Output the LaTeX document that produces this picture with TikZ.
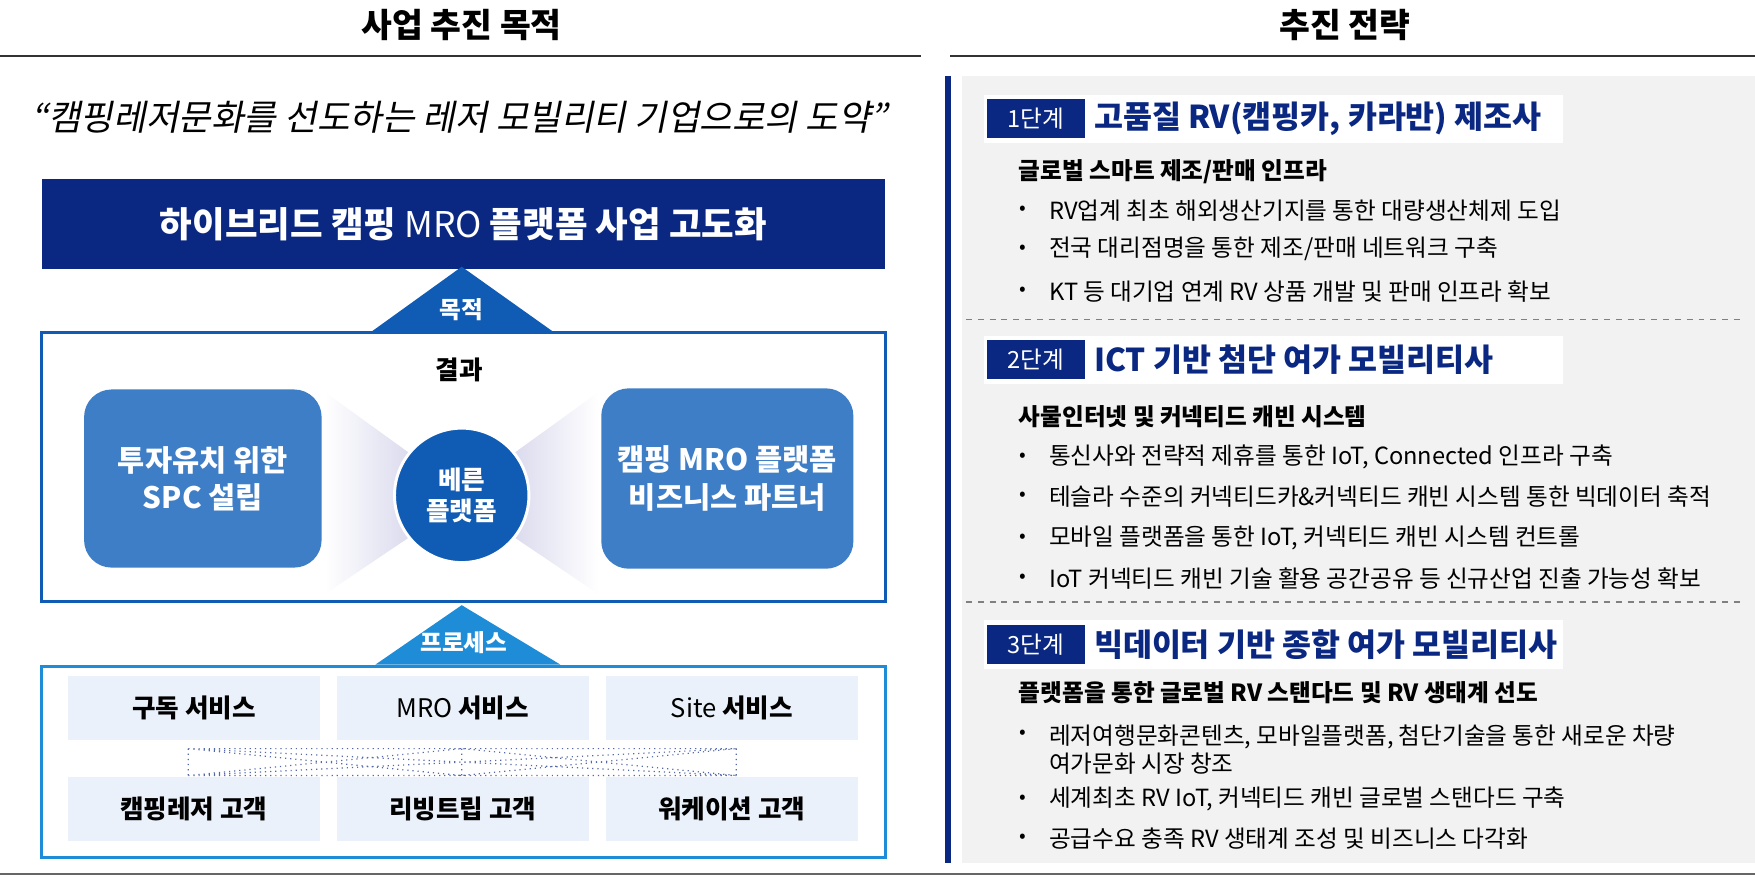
\documentclass[tikz,border=0pt]{standalone}
\usepackage{fontspec}
\setmainfont{Noto Sans CJK KR}
\newfontfamily\slantfont[FakeSlant=0.2]{Noto Sans CJK KR}
\usetikzlibrary{positioning}
\usetikzlibrary{calc}
\definecolor{navy}{RGB}{10,40,130}
\definecolor{midblue}{RGB}{16,92,180}
\definecolor{boxblue}{RGB}{62,126,198}
\definecolor{skyblue}{RGB}{30,140,215}
\definecolor{cellfill}{RGB}{234,241,250}
\definecolor{panelgray}{RGB}{242,242,242}
\definecolor{lav}{RGB}{205,205,232}
\newcommand{\bul}{\textbullet}

\begin{document}
\begin{tikzpicture}[x=0.02cm,y=-0.02cm,
    title/.style={font=\fontsize{17}{20}\selectfont\bfseries},
    bigbox/.style={rounded corners=14pt,fill=boxblue,text=white,align=center,
        font=\fontsize{15}{19}\selectfont\bfseries},
    cell/.style={fill=cellfill,minimum width=4.5cm,minimum height=1.15cm,
        font=\fontsize{13}{15}\selectfont\bfseries},
    stagelbl/.style={fill=navy,text=white,minimum width=1.76cm,minimum height=0.7cm,
        font=\fontsize{12}{14}\selectfont,anchor=west},
    stagetitle/.style={text=navy,font=\fontsize{16}{20}\selectfont\bfseries,anchor=west},
    subhead/.style={anchor=west,font=\fontsize{12}{14}\selectfont\bfseries},
    item/.style={anchor=west,font=\fontsize{12}{14}\selectfont,align=left},
    dot/.style={anchor=center,font=\fontsize{10}{12}\selectfont}
]
    \useasboundingbox (0,0) rectangle (1566,784);

    % Section titles
    \node[title] (ltitle) at (412,22) {사업 추진 목적};
    \node[title] (rtitle) at (1200,22) {추진 전략};
    \draw[thick,black!80] (0,50) -- (822,50);
    \draw[thick,black!80] (848,50) -- (1566,50);
    \draw[thick,black!60] (0,780) -- (1566,780);

    \node[font=\fontsize{18}{22}\selectfont\slantfont] (quote) at (410,105)
        {“캠핑레저문화를 선도하는 레저 모빌리티 기업으로의 도약”};

    % Goal banner
    \node[fill=navy,text=white,minimum width=15.06cm,minimum height=1.6cm,
        font=\fontsize{18}{22}\selectfont\bfseries] (goal) at (413.5,200)
        {하이브리드 캠핑 \mdseries MRO \bfseries 플랫폼 사업 고도화};

    % Result box
    \draw[midblue,line width=1.6pt,fill=white] (37,297) rectangle (790,537);
    \fill[midblue] (330,297) -- (412,238) -- (495,297) -- cycle;
    \node[text=white,font=\fontsize{12}{14}\selectfont\bfseries] (purpose) at (412,276) {목적};
    \node[font=\fontsize{13}{15}\selectfont\bfseries] (result) at (410,330) {결과};

    % Funnels
    \shade[left color=white,right color=lav] (290,350) -- (394,425) -- (394,460) -- (290,530) -- cycle;
    \shade[left color=lav,right color=white] (430,425) -- (534,350) -- (534,530) -- (430,460) -- cycle;

    \node[bigbox,minimum width=4.24cm,minimum height=3.18cm] (spc) at (181,427)
        {투자유치 위한\\SPC 설립};
    \node[bigbox,minimum width=4.5cm,minimum height=3.22cm] (partner) at (649,427)
        {캠핑 MRO 플랫폼\\비즈니스 파트너};
    \node[circle,fill=midblue,draw=white,line width=1.5pt,minimum size=2.4cm,text=white,
        align=center,font=\fontsize{13}{16}\selectfont\bfseries] (fast) at (412,442)
        {베른\\플랫폼};

    % Process box
    \draw[skyblue,line width=1.6pt,fill=white] (37,595) rectangle (790,765);
    \fill[skyblue] (335,593) -- (412,540) -- (500,593) -- cycle;
    \node[text=white,font=\fontsize{12}{14}\selectfont\bfseries] (process) at (414,573) {프로세스};

    \node[cell] (sub) at (173,632) {구독 서비스};
    \node[cell] (mro) at (413,632) {\mdseries MRO \bfseries 서비스};
    \node[cell] (site) at (653,632) {\mdseries Site \bfseries 서비스};
    \node[cell] (camp) at (173,722) {캠핑레저 고객};
    \node[cell] (living) at (413,722) {리빙트립 고객};
    \node[cell] (work) at (653,722) {워케이션 고객};

    \coordinate (tl) at (168,668);
    \coordinate (tm) at (412,668);
    \coordinate (tr) at (657,668);
    \coordinate (bl) at (168,692);
    \coordinate (bm) at (412,692);
    \coordinate (br) at (657,692);
    \draw[dotted,navy!70,semithick] (tl) -- (tr) (bl) -- (br)
        (tl) -- (bl) (tm) -- (bm) (tr) -- (br) (tl) -- (br) (bl) -- (tr)
        (tl) -- (bm) -- (tr) (bl) -- (tm) -- (br);

    % Strategy panel
    \fill[navy] (843,68) rectangle (849,770);
    \fill[panelgray] (858,68) rectangle (1566,770);

    % Stage 1
    \fill[white] (878,85) rectangle (1395,128);
    \node[stagelbl] (s1) at (880,106) {1단계};
    \node[stagetitle] (t1) at (970,106) {고품질 RV(캠핑카, 카라반) 제조사};
    \node[subhead] (h1) at (903,153) {글로벌 스마트 제조/판매 인프라};
    \foreach \yy/\txt in {188/{RV업계 최초 해외생산기지를 통한 대량생산체제 도입},
                          222/{전국 대리점명을 통한 제조/판매 네트워크 구축},
                          260/{KT 등 대기업 연계 RV 상품 개발 및 판매 인프라 확보}}{
        \node[dot] at (913,\yy) {\bul};
        \node[item] at (930,\yy) {\txt};
    }
    \draw[dashed,gray,thick] (862,285) -- (1556,285);

    % Stage 2
    \fill[white] (878,300) rectangle (1395,343);
    \node[stagelbl] (s2) at (880,321) {2단계};
    \node[stagetitle] (t2) at (970,321) {ICT 기반 첨단 여가 모빌리티사};
    \node[subhead] (h2) at (903,372) {사물인터넷 및 커넥티드 캐빈 시스템};
    \foreach \yy/\txt in {408/{통신사와 전략적 제휴를 통한 IoT, Connected 인프라 구축},
                          443/{테슬라 수준의 커넥티드카\&커넥티드 캐빈 시스템 통한 빅데이터 축적},
                          480/{모바일 플랫폼을 통한 IoT, 커넥티드 캐빈 시스템 컨트롤},
                          516/{IoT 커넥티드 캐빈 기술 활용 공간공유 등 신규산업 진출 가능성 확보}}{
        \node[dot] at (913,\yy) {\bul};
        \node[item] at (930,\yy) {\txt};
    }
    \draw[dashed,gray,thick] (862,537) -- (1556,537);

    % Stage 3
    \fill[white] (878,553) rectangle (1395,597);
    \node[stagelbl] (s3) at (880,575) {3단계};
    \node[stagetitle] (t3) at (970,575) {빅데이터 기반 종합 여가 모빌리티사};
    \node[subhead] (h3) at (903,618) {플랫폼을 통한 글로벌 RV 스탠다드 및 RV 생태계 선도};
    \node[dot] at (913,655) {\bul};
    \node[item,anchor=north west] at (930,641)
        {레저여행문화콘텐츠, 모바일플랫폼, 첨단기술을 통한 새로운 차량\\여가문화 시장 창조};
    \foreach \yy/\txt in {713/{세계최초 RV IoT, 커넥티드 캐빈 글로벌 스탠다드 구축},
                          748/{공급수요 충족 RV 생태계 조성 및 비즈니스 다각화}}{
        \node[dot] at (913,\yy) {\bul};
        \node[item] at (930,\yy) {\txt};
    }
\end{tikzpicture}
\end{document}
